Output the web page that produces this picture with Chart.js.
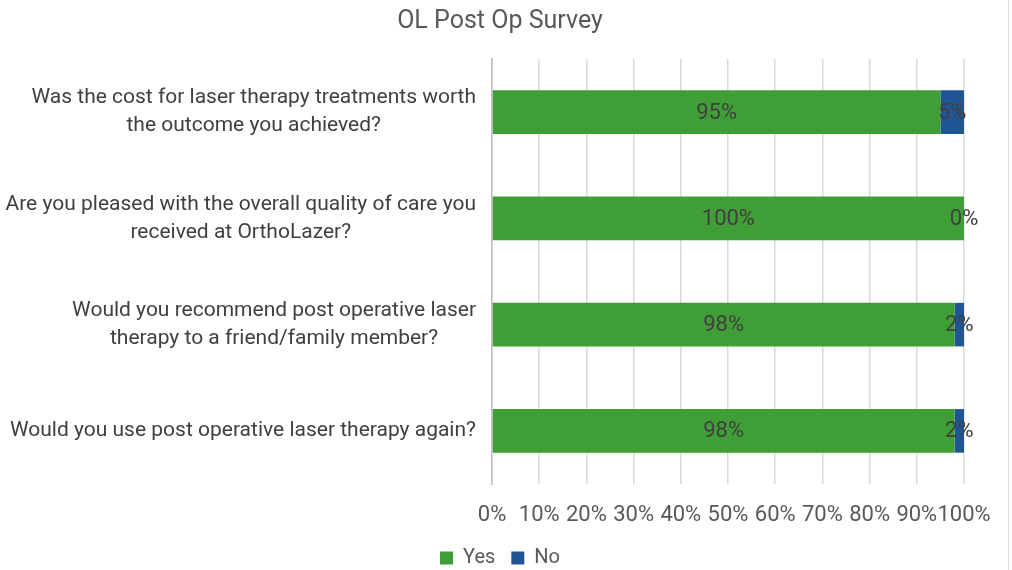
<!DOCTYPE html>
<html>
<head>
<meta charset="utf-8">
<script src="https://cdn.jsdelivr.net/npm/chart.js@4.4.1/dist/chart.umd.min.js"></script>
<style>
  html, body { margin: 0; padding: 0; background: #fff; }
  #wrap { position: relative; width: 1012px; height: 570px; overflow: hidden; }
  #edge { position: absolute; left: 1008px; top: 0; width: 1px; height: 570px; background: #d9d9d9; }
</style>
</head>
<body>
<div id="wrap">
  <canvas id="survey-chart" width="1012" height="570"></canvas>
  <div id="edge"></div>
</div>
<script>
var questions = [
  ["Was the cost for laser therapy treatments worth", "the outcome you achieved?"],
  ["Are you pleased with the overall quality of care you", "received at OrthoLazer?"],
  ["Would you recommend post operative laser", "therapy to a friend/family member?"],
  ["Would you use post operative laser therapy again?"]
];
var yesValues = [95, 100, 98, 98];
var noValues = [5, 0, 2, 2];
var xTicks = [0, 10, 20, 30, 40, 50, 60, 70, 80, 90, 100];

var FONT = "Roboto, 'Open Sans', sans-serif";
var TEXT = "#404040";

// y labels: block right aligned, lines centred inside the block (like Excel)
var questionLabels = {
  id: 'questionLabels',
  afterDraw: function(chart){
    var scale = chart.scales.y;
    var ctx = chart.ctx;
    var lineH = 28;
    ctx.save();
    ctx.font = "21px " + FONT;
    ctx.fillStyle = TEXT;
    ctx.textAlign = 'center';
    ctx.textBaseline = 'middle';
    questions.forEach(function(lines, i){
      var widest = 0;
      lines.forEach(function(l){ widest = Math.max(widest, ctx.measureText(l).width); });
      var cx = scale.right - 16 - widest / 2;
      var cy = scale.getPixelForTick(i) - (lines.length - 1) * lineH / 2;
      lines.forEach(function(l, j){ ctx.fillText(l, cx, cy + j * lineH); });
    });
    ctx.restore();
  }
};

// value labels in the middle of each segment
var barValues = {
  id: 'barValues',
  afterDatasetsDraw: function(chart){
    var ctx = chart.ctx;
    ctx.save();
    ctx.font = "22px " + FONT;
    ctx.fillStyle = TEXT;
    ctx.textAlign = 'center';
    ctx.textBaseline = 'middle';
    chart.data.datasets.forEach(function(ds, d){
      chart.getDatasetMeta(d).data.forEach(function(bar, i){
        var p = bar.getProps(['x', 'y', 'base']);
        ctx.fillText(ds.data[i] + '%', (p.x + p.base) / 2, p.y + 1);
      });
    });
    ctx.restore();
  }
};

var ctx = document.getElementById("survey-chart");
var surveyChart = new Chart(ctx, {
  type: 'bar',
  data: {
    labels: questions,
    datasets: [{
      label: "Yes",
      data: yesValues,
      backgroundColor: "#3F9E35",
      barPercentage: 0.41,
      categoryPercentage: 1
    }, {
      label: "No",
      data: noValues,
      backgroundColor: "#1F5592",
      barPercentage: 0.41,
      categoryPercentage: 1
    }]
  },
  options: {
    indexAxis: 'y',
    responsive: false,
    animation: false,
    layout: { padding: { left: 4, right: 16, top: 6, bottom: -8 } },
    plugins: {
      title: {
        display: true,
        text: "OL Post Op Survey",
        color: "#595959",
        font: { family: FONT, size: 25, weight: 'normal' },
        padding: { top: 1, bottom: 22 }
      },
      legend: {
        position: 'bottom',
        labels: {
          color: "#595959",
          font: { family: FONT, size: 20 },
          boxWidth: 13,
          boxHeight: 13,
          padding: 16
        }
      },
      tooltip: { enabled: false }
    },
    scales: {
      x: {
        stacked: true,
        min: 0,
        max: 100,
        afterBuildTicks: function(axis){
          axis.ticks = xTicks.map(function(v){ return { value: v }; });
        },
        afterFit: function(axis){
          axis.height = 48;
          axis.paddingRight = 48;
        },
        ticks: {
          color: "#595959",
          font: { family: FONT, size: 22 },
          padding: 18,
          maxRotation: 0,
          autoSkip: false,
          callback: function(v){ return v + '%'; }
        },
        grid: { color: "#d9d9d9", lineWidth: 1.5, drawTicks: false },
        border: { display: false }
      },
      y: {
        stacked: true,
        afterFit: function(axis){ axis.width = 488; },
        ticks: {
          color: "rgba(0,0,0,0)",
          font: { family: FONT, size: 21 },
          padding: 16
        },
        grid: { display: false, drawTicks: false },
        border: { color: "#bfbfbf", width: 1.5 }
      }
    }
  },
  plugins: [questionLabels, barValues]
});
</script>
</body>
</html>
